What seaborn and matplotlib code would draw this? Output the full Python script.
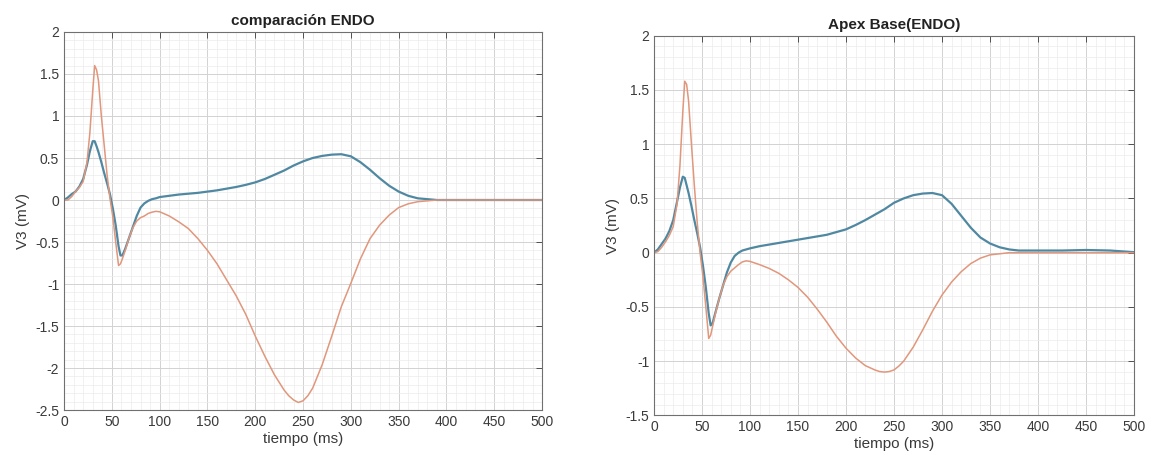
import numpy as np
import pandas as pd
import seaborn as sns
import matplotlib
matplotlib.use("Agg")
import matplotlib.pyplot as plt
from matplotlib.ticker import MultipleLocator, FuncFormatter

# time samples (ms)
t = [0, 4, 8, 12, 16, 20, 24, 27, 30, 32, 34, 36, 39, 42, 45, 48, 51, 54, 57, 59,
     61, 64, 68, 72, 76, 80, 84, 88, 92, 96, 100, 110, 120, 130, 140, 150, 160, 170,
     180, 190, 200, 210, 220, 230, 235, 240, 245, 250, 255, 260, 270, 280, 290, 300,
     310, 320, 330, 340, 350, 360, 370, 380, 390, 400, 425, 450, 475, 500]

# left panel: comparacion ENDO
left_blue = [0.0, 0.03, 0.07, 0.10, 0.16, 0.25, 0.42, 0.58, 0.70, 0.70, 0.64, 0.57, 0.45,
             0.32, 0.20, 0.07, -0.10, -0.30, -0.55, -0.66, -0.66, -0.58, -0.45, -0.32,
             -0.19, -0.09, -0.04, -0.01, 0.01, 0.02, 0.035, 0.05, 0.065, 0.075, 0.085,
             0.10, 0.115, 0.135, 0.155, 0.18, 0.21, 0.25, 0.30, 0.35, 0.38, 0.41, 0.435,
             0.46, 0.48, 0.50, 0.525, 0.54, 0.545, 0.52, 0.45, 0.36, 0.26, 0.17, 0.10,
             0.05, 0.02, 0.01, 0.0, 0.0, 0.0, 0.0, 0.0, 0.0]
left_orange = [0.0, 0.0, 0.04, 0.10, 0.15, 0.22, 0.45, 0.80, 1.30, 1.60, 1.55, 1.42, 1.0,
               0.65, 0.30, 0.02, -0.20, -0.50, -0.78, -0.76, -0.70, -0.60, -0.45, -0.33,
               -0.25, -0.21, -0.19, -0.16, -0.145, -0.135, -0.14, -0.19, -0.26, -0.34,
               -0.46, -0.60, -0.76, -0.95, -1.14, -1.36, -1.62, -1.86, -2.08, -2.26,
               -2.33, -2.38, -2.41, -2.39, -2.33, -2.24, -1.96, -1.62, -1.27, -0.99,
               -0.70, -0.46, -0.30, -0.18, -0.09, -0.045, -0.02, -0.01, 0.0, 0.0, 0.0,
               0.0, 0.0, 0.0]

# right panel: Apex Base(ENDO)
right_blue = [0.0, 0.03, 0.08, 0.13, 0.20, 0.30, 0.47, 0.60, 0.70, 0.69, 0.62, 0.55, 0.43,
              0.30, 0.18, 0.05, -0.12, -0.32, -0.56, -0.67, -0.65, -0.55, -0.42, -0.30,
              -0.18, -0.09, -0.03, 0.0, 0.02, 0.03, 0.04, 0.06, 0.075, 0.09, 0.105, 0.12,
              0.135, 0.15, 0.165, 0.19, 0.215, 0.255, 0.30, 0.35, 0.375, 0.40, 0.43,
              0.46, 0.48, 0.50, 0.53, 0.545, 0.55, 0.53, 0.45, 0.34, 0.23, 0.14, 0.085,
              0.05, 0.03, 0.02, 0.02, 0.02, 0.02, 0.025, 0.02, 0.005]
right_orange = [0.0, 0.01, 0.05, 0.10, 0.16, 0.24, 0.45, 0.80, 1.30, 1.58, 1.55, 1.40, 1.0,
                0.62, 0.28, 0.0, -0.22, -0.50, -0.79, -0.76, -0.68, -0.56, -0.42, -0.30,
                -0.22, -0.17, -0.14, -0.11, -0.085, -0.075, -0.08, -0.11, -0.145, -0.19,
                -0.25, -0.32, -0.41, -0.52, -0.64, -0.77, -0.88, -0.97, -1.04, -1.08,
                -1.095, -1.10, -1.095, -1.08, -1.045, -1.00, -0.87, -0.71, -0.54, -0.39,
                -0.27, -0.175, -0.10, -0.05, -0.02, -0.01, 0.0, 0.0, 0.0, 0.0, 0.0, 0.0,
                0.0, 0.0]

BLUE = "#5088a2"
ORANGE = "#e0977c"

sns.set_theme(style="white")
plt.rcParams["font.family"] = ["Liberation Sans", "DejaVu Sans"]
plt.rcParams["xtick.direction"] = "in"
plt.rcParams["ytick.direction"] = "in"


def fmt(v, pos):
    s = f"{v:g}"
    return "0" if s == "-0" else s


def panel(ax, blue, orange, title, ymin):
    df = pd.DataFrame({"t": t, "blue": blue, "orange": orange})
    sns.lineplot(data=df, x="t", y="blue", ax=ax, color=BLUE, linewidth=1.6, sort=False)
    sns.lineplot(data=df, x="t", y="orange", ax=ax, color=ORANGE, linewidth=1.1, sort=False)
    ax.set_xlim(0, 500)
    ax.set_ylim(ymin, 2)
    ax.xaxis.set_major_locator(MultipleLocator(50))
    ax.xaxis.set_minor_locator(MultipleLocator(10))
    ax.yaxis.set_major_locator(MultipleLocator(0.5))
    ax.yaxis.set_minor_locator(MultipleLocator(0.1))
    ax.yaxis.set_major_formatter(FuncFormatter(fmt))
    ax.grid(which="major", color="#d2d2d2", linewidth=0.7)
    ax.grid(which="minor", color="#ebebeb", linewidth=0.5)
    ax.set_axisbelow(True)
    ax.tick_params(which="both", top=True, right=True, labelsize=10,
                   colors="#3a3a3a", length=4, width=0.6)
    ax.tick_params(which="minor", length=0)
    for s in ax.spines.values():
        s.set_color("#707070")
        s.set_linewidth(0.8)
    ax.set_title(title, fontsize=11, fontweight="bold", color="#222222", pad=5)
    ax.set_xlabel("tiempo (ms)", fontsize=11, color="#3a3a3a", labelpad=2)
    ax.set_ylabel("V3 (mV)", fontsize=11, color="#3a3a3a", labelpad=4)


fig = plt.figure(figsize=(11.5, 4.61), dpi=100)
ax1 = fig.add_axes([0.0557, 0.1106, 0.4157, 0.82])
ax2 = fig.add_axes([0.5687, 0.0987, 0.4174, 0.8240])

panel(ax1, left_blue, left_orange, "comparación ENDO", -2.5)
panel(ax2, right_blue, right_orange, "Apex Base(ENDO)", -1.5)

fig.savefig("out.png", dpi=100)
